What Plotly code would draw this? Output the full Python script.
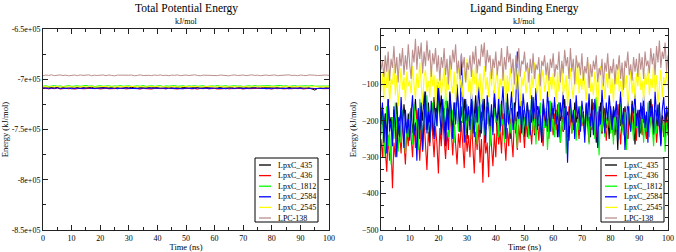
import numpy as np
import plotly.graph_objects as go

W, H = 676, 252
SERIF = "Liberation Serif"

names = ["LpxC_435", "LpxC_436", "LpxC_1812", "LpxC_2584", "LpxC_2545", "LPC-138"]
colors = ["#000000", "#ff0000", "#00ff00", "#0000ff", "#ffff00", "#bc8f8f"]

x_ticks = [0, 10, 20, 30, 40, 50, 60, 70, 80, 90, 100]
left_y_ticks = [-850000, -800000, -750000, -700000, -650000]
left_y_text = ["-8.5e+05", "-8e+05", "-7.5e+05", "-7e+05", "-6.5e+05"]
right_y_ticks = [-500, -400, -300, -200, -100, 0]

# ---------- Total Potential Energy (kJ/mol), one value per ns ----------
tpe_435 = [-708400, -708900, -708200, -708700, -708500, -708100, -708800, -708300, -708600, -709000,
           -708400, -708700, -708200, -708900, -708500, -708300, -708800, -708100, -708600, -708400,
           -708900, -708300, -708700, -708500, -708200, -708800, -708400, -709000, -708600, -708300,
           -708700, -708100, -708500, -708900, -708400, -708600, -708200, -708800, -708500, -708300,
           -708700, -708400, -709000, -708200, -708600, -708500, -708800, -708300, -708700, -708100,
           -708500, -708900, -708400, -708600, -708200, -708800, -708500, -708300, -708700, -708400,
           -709000, -708600, -708200, -708800, -708400, -708500, -708300, -708900, -708600, -708200,
           -708700, -708400, -708800, -708500, -708100, -708600, -708900, -708300, -708700, -708400,
           -708500, -708800, -708200, -708600, -708400, -709000, -708300, -708700, -708500, -708800,
           -708400, -708600, -708900, -708300, -709500, -710800, -709200, -708600, -708900, -708400,
           -708700]
tpe_436 = [-709300, -708900, -709600, -709100, -709400, -708800, -709700, -709200, -709000, -709500,
           -709100, -709800, -709300, -708900, -709500, -709200, -709600, -709000, -709400, -709100,
           -709700, -709200, -708900, -709500, -709300, -709800, -709100, -709400, -709000, -709600,
           -709200, -709500, -708900, -709300, -709700, -709100, -709400, -709200, -709800, -709000,
           -709500, -709300, -709100, -709600, -708900, -709400, -709200, -709700, -709100, -709500,
           -709300, -709000, -709600, -709200, -709800, -709100, -709400, -708900, -709500, -709300,
           -709100, -709700, -709200, -709400, -709000, -709600, -709300, -709100, -709500, -709200,
           -709800, -709000, -709400, -709200, -709600, -709100, -709300, -708900, -709500, -709200,
           -709700, -709100, -709400, -709000, -709600, -709300, -709200, -709500, -708900, -709400,
           -709100, -709700, -709300, -709000, -709500, -709200, -709600, -709100, -709400, -709200,
           -709300]
tpe_1812 = [-706900, -706500, -707200, -706700, -706300, -707000, -706600, -707300, -706800, -706400,
            -707100, -706700, -706500, -707000, -706800, -706200, -706900, -706600, -707200, -706700,
            -706400, -707000, -706800, -706500, -707100, -706600, -706900, -706300, -707000, -706700,
            -706500, -707200, -706800, -706600, -706900, -706300, -707100, -706700, -706500, -707000,
            -706800, -706400, -707200, -706600, -706900, -706700, -706300, -707000, -706800, -706500,
            -707100, -706600, -706900, -706400, -707000, -706700, -706500, -707200, -706800, -706600,
            -706900, -706300, -707000, -706700, -706500, -707100, -706800, -706400, -706900, -706600,
            -707200, -706700, -706500, -707000, -706300, -706800, -706600, -707100, -706700, -706400,
            -706900, -706600, -707000, -706200, -706800, -706500, -707100, -706700, -706400, -706900,
            -706600, -707000, -706500, -706800, -706300, -706900, -706700, -707100, -706500, -706800,
            -706700]
tpe_2584 = [-709000, -708700, -709300, -708800, -709100, -708600, -709400, -708900, -709200, -708700,
            -709500, -709000, -708800, -709300, -708900, -709100, -708600, -709200, -709000, -709400,
            -708800, -709100, -708700, -709300, -709000, -708800, -709500, -708900, -709200, -708700,
            -709100, -709300, -708800, -709000, -709400, -708700, -709200, -708900, -709100, -708600,
            -709300, -709000, -708800, -709400, -708900, -709100, -708700, -709200, -709000, -709500,
            -708800, -709100, -708900, -709300, -708700, -709000, -709200, -708800, -709400, -709000,
            -708700, -709200, -708900, -709100, -709500, -708800, -709000, -709300, -708700, -709100,
            -708900, -709400, -709000, -708800, -709200, -708600, -709100, -709300, -708900, -709000,
            -709400, -708800, -709100, -708700, -709200, -709000, -709500, -708900, -709100, -708800,
            -709300, -709000, -708700, -709200, -708900, -709400, -709100, -708800, -709200, -709000,
            -709100]
tpe_2545 = [-707500, -707200, -707800, -707300, -707600, -707100, -707900, -707400, -707700, -707200,
            -707500, -707800, -707300, -707600, -707000, -707700, -707400, -707200, -707800, -707500,
            -707300, -707600, -707100, -707700, -707400, -707900, -707200, -707500, -707300, -707800,
            -707600, -707100, -707400, -707700, -707300, -707500, -707800, -707200, -707600, -707400,
            -707100, -707700, -707300, -707500, -707900, -707200, -707600, -707400, -707800, -707300,
            -707500, -707100, -707700, -707400, -707200, -707800, -707500, -707300, -707600, -707000,
            -707700, -707400, -707200, -707600, -707500, -707800, -707300, -707100, -707700, -707400,
            -707600, -707200, -707800, -707500, -707300, -707700, -707100, -707500, -707400, -707800,
            -707200, -707600, -707400, -707900, -707300, -707500, -707100, -707700, -707400, -707600,
            -707200, -707800, -707300, -707500, -707700, -707200, -707600, -707400, -707800, -707300,
            -707500]
tpe_lpc138 = [-696500, -695800, -696200, -695600, -696400, -696000, -695700, -696300, -695900, -696600,
              -696100, -695800, -696400, -695700, -696200, -696000, -695600, -696500, -695900, -696300,
              -696100, -695700, -696400, -695800, -696200, -696600, -695900, -696100, -695700, -696300,
              -696000, -695800, -696500, -696200, -695600, -696300, -695900, -696100, -696400, -695800,
              -696200, -695700, -696300, -696000, -696500, -695900, -696100, -695700, -696400, -696000,
              -695800, -696300, -696100, -695600, -696200, -696500, -695900, -696000, -696300, -695700,
              -696100, -696400, -695800, -696200, -695900, -696600, -696000, -695700, -696300, -696100,
              -695800, -696400, -696000, -695600, -696200, -695900, -696500, -696100, -695800, -696300,
              -696000, -695700, -696400, -696100, -695900, -696200, -695600, -696300, -696000, -696500,
              -695800, -696100, -696400, -695700, -696200, -696000, -696300, -695900, -696100, -695800,
              -696200]

# ---------- Ligand Binding Energy (kJ/mol), one value per 0.5 ns ----------
lbe_435 = [-200, -160, -230, -180, -250, -140, -210, -190, -260, -170, -220, -150, -240, -195, -175, -230, -155, -205, -245, -180, -215,
           -165, -235, -190, -140, -215, -175, -250, -160, -200, -120, -185, -225, -150, -205, -170, -240, -135, -195, -160, -95,
           -180, -130, -215, -165, -240, -145, -195, -120, -175, -225, -150, -200, -110, -185, -230, -160, -205, -140, -190, -250,
           -170, -215, -150, -235, -185, -130, -205, -165, -245, -175, -200, -140, -225, -160, -190, -255, -170, -210, -135, -195,
           -230, -160, -200, -145, -240, -180, -215, -125, -190, -250, -165, -205, -150, -235, -175, -195, -140, -220, -170, -245,
           -185, -150, -225, -170, -205, -135, -240, -180, -160, -215, -195, -260, -155, -200, -175, -230, -145, -210, -185, -165,
           -220, -170, -245, -150, -200, -185, -230, -140, -210, -175, -255, -160, -195, -225, -150, -205, -180, -240, -165, -200,
           -175, -230, -155, -210, -190, -245, -140, -200, -170, -260, -185, -215, -150, -235, -195, -165, -220, -180, -250, -160,
           -205, -170, -240, -190, -280, -155, -215, -185, -230, -160, -200, -250, -175, -220, -145, -195, -265, -180, -210, -170,
           -235, -160, -205, -185, -250, -175, -215, -140, -195, -240, -170, -225, -155, -210, -265, -185, -200, -245, -175, -240]
lbe_436 = [-250, -300, -220, -280, -340, -240, -310, -270, -385, -260, -300, -215, -275, -235, -290, -200, -260, -320, -225, -270, -190,
           -255, -300, -210, -275, -170, -240, -310, -225, -285, -195, -260, -335, -230, -270, -180, -250, -300, -215, -265, -345,
           -220, -270, -185, -250, -305, -230, -280, -165, -245, -295, -210, -260, -320, -235, -275, -200, -255, -330, -225, -285,
           -240, -300, -195, -265, -345, -230, -280, -210, -315, -250, -370, -225, -290, -260, -355, -215, -275, -325, -235, -300,
           -205, -265, -230, -290, -180, -250, -310, -220, -270, -195, -255, -300, -175, -240, -280, -210, -260, -160, -230, -275,
           -200, -245, -170, -225, -265, -190, -235, -150, -215, -255, -185, -230, -270, -175, -220, -195, -250, -165, -210, -240,
           -180, -225, -155, -205, -260, -190, -230, -170, -215, -245, -160, -200, -235, -185, -220, -145, -205, -250, -175, -215,
           -195, -240, -165, -210, -260, -180, -225, -150, -205, -245, -175, -215, -190, -235, -160, -200, -255, -185, -220, -170,
           -210, -245, -180, -225, -155, -200, -265, -190, -230, -170, -215, -250, -185, -205, -160, -235, -195, -255, -175, -210,
           -190, -240, -165, -215, -250, -180, -225, -200, -155, -235, -185, -260, -205, -170, -220, -195, -245, -180, -210, -200]
lbe_1812 = [-240, -180, -300, -210, -160, -270, -230, -320, -190, -250, -150, -220, -285, -200, -260, -170, -235, -290, -205, -245, -175,
            -215, -265, -155, -230, -195, -280, -140, -210, -250, -170, -225, -130, -200, -260, -185, -150, -240, -175, -215, -145,
            -190, -235, -160, -205, -125, -180, -245, -150, -215, -170, -260, -140, -195, -230, -165, -120, -205, -180, -240, -155,
            -200, -170, -250, -145, -215, -185, -265, -160, -225, -135, -195, -240, -175, -210, -150, -270, -190, -230, -165, -205,
            -180, -245, -155, -215, -195, -260, -140, -205, -170, -235, -185, -150, -225, -200, -275, -165, -210, -145, -240, -190,
            -215, -160, -250, -185, -135, -225, -195, -265, -170, -210, -150, -240, -190, -220, -165, -280, -200, -145, -230, -180,
            -245, -175, -210, -150, -260, -195, -225, -165, -290, -185, -215, -140, -235, -200, -170, -255, -190, -225, -160, -210,
            -180, -240, -205, -150, -265, -190, -220, -170, -250, -135, -200, -295, -175, -230, -160, -245, -195, -215, -145, -235,
            -200, -265, -170, -225, -185, -250, -150, -215, -240, -175, -280, -195, -160, -230, -205, -255, -165, -220, -190, -245,
            -210, -170, -260, -195, -230, -150, -245, -185, -220, -270, -175, -235, -200, -160, -250, -215, -190, -285, -205, -240]
lbe_2584 = [-210, -150, -260, -180, -290, -140, -230, -200, -270, -160, -220, -300, -190, -245, -135, -215, -275, -170, -235, -195, -255,
            -180, -130, -240, -205, -310, -165, -225, -150, -280, -190, -120, -235, -175, -260, -145, -200, -250, -160, -215, -110,
            -185, -240, -140, -205, -270, -165, -225, -125, -195, -250, -150, -210, -100, -180, -230, -20, -170, -260, -140, -200,
            -160, -225, -120, -190, -245, -150, -205, -105, -175, -235, -140, -195, -260, -130, -185, -215, -155, -240, -115, -180,
            -200, -135, -230, -165, -105, -190, -250, -145, -210, -170, -120, -225, -185, -140, -10, -195, -160, -235, -125, -175,
            -215, -150, -190, -240, -130, -200, -170, -110, -225, -160, -195, -255, -140, -180, -215, -120, -170, -230, -150, -195,
            -135, -210, -175, -245, -150, -190, -120, -225, -160, -315, -185, -140, -205, -170, -250, -130, -195, -160, -230, -145,
            -185, -260, -150, -200, -125, -215, -170, -240, -140, -190, -275, -160, -210, -115, -180, -235, -150, -200, -130, -170,
            -225, -160, -190, -145, -255, -175, -120, -210, -165, -280, -185, -140, -200, -230, -155, -180, -125, -215, -170, -245,
            -150, -195, -130, -220, -175, -260, -145, -190, -160, -235, -120, -185, -215, -150, -270, -170, -135, -205, -160, -190]
lbe_2545 = [-120, -70, -140, -35, -110, -60, -150, -85, -100, -45, -130, -75, -160, -95, -55, -115, -80, -145, -65, -105, -90,
            -125, -50, -100, -140, -70, -110, -40, -95, -155, -80, -60, -120, -90, -135, -45, -105, -75, -165, -85, -110,
            -70, -130, -95, -55, -145, -80, -115, -40, -100, -125, -65, -150, -90, -35, -110, -75, -135, -60, -95, -30,
            -120, -85, -140, -60, -100, -45, -130, -90, -70, -155, -95, -50, -115, -80, -135, -65, -105, -40, -125, -90,
            -60, -140, -85, -110, -45, -95, -150, -75, -120, -55, -100, -135, -70, -115, -50, -90, -160, -80, -105, -65,
            -125, -90, -55, -140, -75, -110, -40, -100, -130, -70, -145, -85, -60, -120, -95, -50, -135, -80, -115, -70,
            -100, -150, -65, -120, -85, -45, -130, -95, -75, -160, -90, -55, -110, -140, -70, -100, -35, -125, -85, -115,
            -60, -105, -145, -80, -40, -120, -95, -130, -65, -100, -170, -85, -50, -115, -90, -140, -70, -110, -45, -125,
            -85, -150, -65, -100, -45, -120, -90, -135, -55, -110, -75, -160, -95, -60, -125, -80, -140, -70, -105, -50,
            -115, -90, -145, -70, -100, -55, -130, -85, -110, -40, -120, -75, -155, -95, -60, -135, -80, -105, -65, -115]
lbe_lpc138 = [-60, -35, -80, -20, -65, -10, -90, -30, -55, 5, -70, -25, -95, -15, -50, 0, -75, -20, -60, 10, -45,
              -85, -5, -40, 25, -60, 5, -30, 15, -70, -10, -50, 20, -35, -5, -80, -15, -45, 0, -65, -20,
              -90, -25, -55, 0, -75, -30, -100, -20, -60, -5, -40, 10, -70, -35, -85, -15, -55, -25, -95, -40,
              -60, -20, -80, -10, -45, 5, -70, -30, -50, 10, -25, 15, -65, -5, -40, -20, -85, -30, -55, -10,
              -75, -35, -50, 0, -90, -25, -60, 5, -40, -15, -70, -30, -100, -20, -55, 0, -80, -35, -45, -10,
              -65, -40, -95, -30, -70, -15, -85, -45, -60, -25, -105, -35, -50, -20, -75, -40, -90, -30, -55, -15,
              -80, -45, -60, -10, -95, -35, -70, -5, -50, -25, -85, 0, -65, -30, -100, -20, -55, -40, -75, -15,
              -90, -50, -70, -25, -110, -45, -80, -35, -60, -20, -95, -55, -75, -30, -105, -40, -65, -15, -85, -50,
              -70, -30, -100, -45, -60, -20, -85, -40, -115, -35, -55, -10, -75, -45, -90, -25, -65, -30, -80, -15,
              -60, -25, -85, -10, -50, -35, -70, 0, -45, -15, -75, 5, -40, 20, -55, -10, -30, 15, -65, -20]

tpe_series = [tpe_435, tpe_436, tpe_1812, tpe_2584, tpe_2545, tpe_lpc138]
lbe_series = [lbe_435, lbe_436, lbe_1812, lbe_2584, lbe_2545, lbe_lpc138]

fig = go.Figure()
for name, col, vals in zip(names, colors, tpe_series):
    t = np.linspace(0, 100, len(vals))
    fig.add_trace(go.Scatter(x=t, y=vals, mode="lines", name=name, showlegend=False,
                             line=dict(color=col, width=1), xaxis="x", yaxis="y"))
for name, col, vals in zip(names, colors, lbe_series):
    t = np.linspace(0, 100, len(vals))
    fig.add_trace(go.Scatter(x=t, y=vals, mode="lines", name=name, showlegend=False,
                             line=dict(color=col, width=1.1), xaxis="x2", yaxis="y2"))

AX = "#222"
tickfont = dict(family=SERIF, size=8, color="#000")
common_x = dict(range=[0, 100], tickmode="array", tickvals=x_ticks, ticks="inside", ticklen=5,
                tickcolor=AX, showline=True, linecolor=AX, linewidth=1, mirror="allticks",
                showgrid=False, zeroline=False, tickfont=tickfont,
                minor=dict(dtick=5, tick0=0, ticks="inside", ticklen=3, tickcolor=AX, showgrid=False),
                title=dict(text="Time (ns)", font=dict(family=SERIF, size=8.5, color="#000"), standoff=0))
common_y = dict(ticks="inside", ticklen=5, tickcolor=AX, showline=True, linecolor=AX,
                linewidth=1, mirror="allticks", showgrid=False, zeroline=False, tickfont=tickfont,
                title=dict(text="Energy (kJ/mol)", font=dict(family=SERIF, size=8.5, color="#000"), standoff=3))

yd = [1 - 230 / H, 1 - 29 / H]


def px(x):
    return x / W


def py(y):
    return 1 - y / H


shapes = []
annotations = []


def add_legend(x0, x1, y0, y1):
    shapes.append(dict(type="rect", xref="paper", yref="paper", x0=px(x0), x1=px(x1),
                       y0=py(y1), y1=py(y0), line=dict(color="#000", width=1), fillcolor="white",
                       layer="above"))
    for i, (name, col) in enumerate(zip(names, colors)):
        yc = y0 + 7 + i * 10.6
        shapes.append(dict(type="line", xref="paper", yref="paper", x0=px(x0 + 4), x1=px(x0 + 16),
                           y0=py(yc), y1=py(yc), line=dict(color=col, width=1.3), layer="above"))
        annotations.append(dict(text=name, x=px(x0 + 21), y=py(yc), xref="paper", yref="paper",
                                xanchor="left", yanchor="middle", showarrow=False,
                                font=dict(family=SERIF, size=8, color="#000")))


add_legend(255, 318, 158, 222)
add_legend(601, 664, 158, 222)

for cx, title in [(186, "Total Potential Energy"), (524, "Ligand Binding Energy")]:
    annotations.append(dict(text=title, x=px(cx), y=py(8), xref="paper", yref="paper",
                            xanchor="center", yanchor="middle", showarrow=False,
                            font=dict(family=SERIF, size=11.5, color="#000")))
    annotations.append(dict(text="kJ/mol", x=px(cx), y=py(21), xref="paper", yref="paper",
                            xanchor="center", yanchor="middle", showarrow=False,
                            font=dict(family=SERIF, size=8, color="#000")))

fig.update_layout(
    width=W, height=H, margin=dict(l=0, r=0, t=0, b=0),
    paper_bgcolor="white", plot_bgcolor="white", template="none",
    showlegend=False,
    xaxis=dict(domain=[43 / W, 329 / W], anchor="y", **common_x),
    yaxis=dict(domain=yd, anchor="x", range=[-850000, -650000], tickmode="array",
               tickvals=left_y_ticks, ticktext=left_y_text,
               minor=dict(dtick=25000, tick0=0, ticks="inside", ticklen=3, tickcolor=AX, showgrid=False),
               **common_y),
    xaxis2=dict(domain=[381 / W, 668 / W], anchor="y2", **common_x),
    yaxis2=dict(domain=yd, anchor="x2", range=[-500, 52], tickmode="array",
                tickvals=right_y_ticks,
                minor=dict(dtick=100 / 3, tick0=0, ticks="inside", ticklen=3, tickcolor=AX, showgrid=False),
                **common_y),
    shapes=shapes,
    annotations=annotations,
)

fig.write_html("out.html", config={"displayModeBar": False},
               post_script="document.body.style.margin='0';document.body.style.overflow='hidden';")
